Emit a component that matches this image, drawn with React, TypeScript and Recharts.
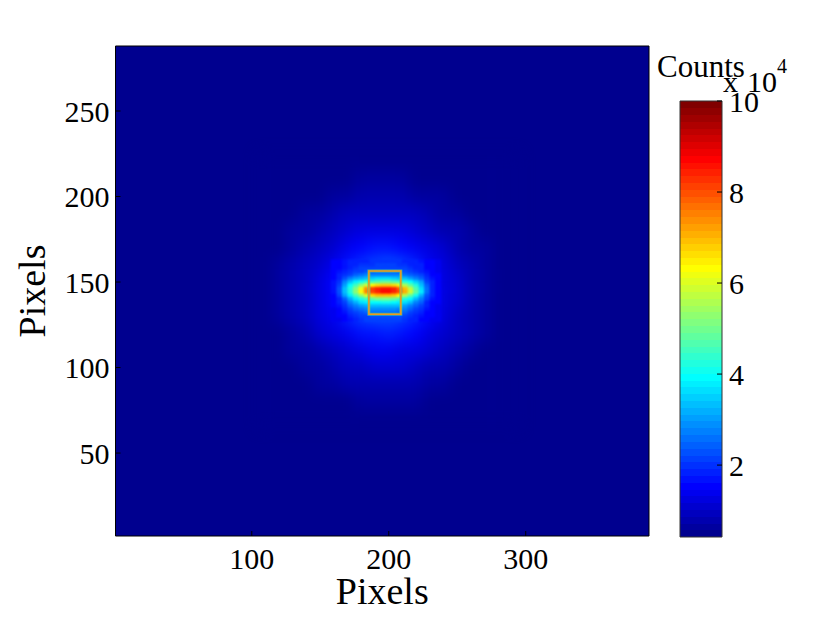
import React from 'react';
import {
	ScatterChart,
	Scatter,
	ComposedChart,
	XAxis,
	YAxis,
	ReferenceArea,
} from 'recharts';

const X_DOMAIN: [number, number] = [0.5, 390];
const Y_DOMAIN: [number, number] = [1.5, 288];
const X_TICKS = [100, 200, 300];
const Y_TICKS = [50, 100, 150, 200, 250];

// counts, in units of 10^4
const C_MIN = 0.42;
const C_MAX = 10;
const BAR_TICKS = [2, 4, 6, 8, 10];

// broad halo around the beam
const haloXs = [110, 120, 130, 140, 150, 160, 170, 180, 190, 200, 210, 220, 230, 240, 250, 260, 270, 280, 290];
const haloYs = [220, 210, 200, 190, 180, 170, 160, 150, 140, 130, 120, 110, 100, 90, 80, 70];
const haloRows = [
	[0.43, 0.43, 0.43, 0.43, 0.43, 0.44, 0.45, 0.46, 0.47, 0.47, 0.46, 0.45, 0.44, 0.43, 0.43, 0.43, 0.43, 0.43, 0.43],
	[0.43, 0.43, 0.43, 0.44, 0.47, 0.5, 0.54, 0.58, 0.6, 0.6, 0.58, 0.55, 0.52, 0.49, 0.46, 0.43, 0.43, 0.43, 0.43],
	[0.43, 0.43, 0.45, 0.49, 0.56, 0.63, 0.7, 0.74, 0.77, 0.78, 0.75, 0.71, 0.66, 0.58, 0.52, 0.46, 0.43, 0.43, 0.43],
	[0.43, 0.45, 0.5, 0.57, 0.67, 0.78, 0.87, 0.95, 1.0, 1.0, 0.97, 0.89, 0.8, 0.7, 0.6, 0.52, 0.46, 0.43, 0.43],
	[0.44, 0.5, 0.57, 0.68, 0.8, 0.95, 1.1, 1.2, 1.28, 1.28, 1.24, 1.13, 1.0, 0.85, 0.72, 0.6, 0.51, 0.45, 0.43],
	[0.47, 0.55, 0.66, 0.8, 0.98, 1.15, 1.35, 1.55, 1.65, 1.68, 1.58, 1.4, 1.2, 1.03, 0.84, 0.7, 0.57, 0.48, 0.44],
	[0.5, 0.6, 0.72, 0.9, 1.12, 1.4, 1.7, 2.0, 2.2, 2.25, 2.1, 1.8, 1.45, 1.17, 0.95, 0.76, 0.62, 0.51, 0.45],
	[0.52, 0.63, 0.78, 0.98, 1.22, 1.55, 1.95, 2.3, 2.5, 2.55, 2.35, 2.0, 1.6, 1.27, 1.02, 0.81, 0.65, 0.53, 0.46],
	[0.52, 0.64, 0.8, 1.0, 1.25, 1.6, 2.0, 2.35, 2.55, 2.6, 2.4, 2.05, 1.65, 1.3, 1.04, 0.82, 0.66, 0.54, 0.46],
	[0.5, 0.61, 0.74, 0.93, 1.17, 1.45, 1.78, 2.1, 2.3, 2.35, 2.2, 1.85, 1.5, 1.2, 0.97, 0.78, 0.63, 0.52, 0.45],
	[0.47, 0.56, 0.67, 0.83, 1.02, 1.2, 1.42, 1.62, 1.75, 1.78, 1.68, 1.48, 1.26, 1.06, 0.87, 0.72, 0.58, 0.49, 0.44],
	[0.45, 0.51, 0.59, 0.71, 0.84, 1.0, 1.15, 1.27, 1.35, 1.36, 1.3, 1.18, 1.04, 0.89, 0.75, 0.62, 0.52, 0.46, 0.43],
	[0.43, 0.46, 0.51, 0.59, 0.7, 0.82, 0.92, 1.0, 1.05, 1.06, 1.02, 0.93, 0.84, 0.73, 0.62, 0.54, 0.47, 0.43, 0.43],
	[0.43, 0.43, 0.46, 0.5, 0.57, 0.65, 0.72, 0.78, 0.81, 0.82, 0.79, 0.74, 0.68, 0.6, 0.53, 0.47, 0.43, 0.43, 0.43],
	[0.43, 0.43, 0.43, 0.44, 0.48, 0.52, 0.56, 0.6, 0.62, 0.62, 0.6, 0.57, 0.53, 0.5, 0.46, 0.43, 0.43, 0.43, 0.43],
	[0.43, 0.43, 0.43, 0.43, 0.43, 0.44, 0.45, 0.47, 0.48, 0.48, 0.47, 0.46, 0.44, 0.43, 0.43, 0.43, 0.43, 0.43, 0.43],
];

// bright elongated core
const coreXs = [160, 164, 168, 172, 176, 180, 184, 188, 192, 196, 200, 204, 208, 212, 216, 220, 224, 228, 232, 236];
const coreYs = [162, 160, 158, 156, 154, 152, 150, 148, 146, 144, 142, 140, 138, 136, 134, 132, 130, 128];
const coreRows = [
	[1.5, 1.6, 1.7, 1.8, 1.8, 1.9, 1.9, 2.0, 2.0, 2.0, 2.0, 2.0, 2.0, 1.9, 1.9, 1.8, 1.7, 1.6, 1.5, 1.4],
	[1.5, 1.6, 1.7, 1.8, 1.9, 2.0, 2.0, 2.0, 2.1, 2.1, 2.1, 2.1, 2.0, 2.0, 1.9, 1.9, 1.8, 1.6, 1.5, 1.4],
	[1.5, 1.6, 1.7, 1.9, 2.0, 2.1, 2.1, 2.2, 2.2, 2.2, 2.2, 2.2, 2.1, 2.1, 2.0, 1.9, 1.8, 1.6, 1.5, 1.4],
	[1.5, 1.7, 1.9, 2.0, 2.1, 2.2, 2.3, 2.3, 2.4, 2.4, 2.4, 2.4, 2.3, 2.3, 2.2, 2.0, 1.9, 1.7, 1.6, 1.4],
	[1.6, 1.8, 2.0, 2.2, 2.4, 2.6, 2.7, 2.7, 2.8, 2.8, 2.8, 2.8, 2.7, 2.6, 2.5, 2.3, 2.1, 1.8, 1.6, 1.5],
	[1.6, 1.9, 2.3, 2.7, 3.0, 3.2, 3.4, 3.5, 3.6, 3.6, 3.6, 3.5, 3.4, 3.3, 3.1, 2.8, 2.5, 2.0, 1.7, 1.5],
	[1.7, 2.0, 2.7, 3.3, 3.8, 4.1, 4.4, 4.6, 4.7, 4.8, 4.8, 4.7, 4.6, 4.3, 3.9, 3.5, 3.0, 2.2, 1.8, 1.5],
	[1.7, 2.2, 3.1, 3.9, 4.6, 5.3, 5.9, 6.4, 6.7, 6.8, 6.8, 6.6, 6.2, 5.6, 4.9, 4.2, 3.3, 2.4, 1.9, 1.6],
	[1.7, 2.3, 3.4, 4.3, 5.2, 6.2, 7.4, 8.1, 8.4, 8.6, 8.6, 8.5, 7.9, 7.0, 5.8, 4.7, 3.7, 2.6, 1.9, 1.6],
	[1.7, 2.3, 3.4, 4.3, 5.3, 6.3, 7.5, 8.2, 8.5, 8.7, 8.7, 8.5, 8.0, 7.1, 5.9, 4.8, 3.8, 2.6, 1.9, 1.6],
	[1.6, 2.1, 3.0, 3.8, 4.6, 5.3, 6.0, 6.6, 6.9, 7.0, 7.0, 6.8, 6.3, 5.6, 4.8, 4.1, 3.2, 2.3, 1.8, 1.5],
	[1.6, 1.9, 2.5, 3.2, 3.8, 4.2, 4.6, 4.9, 5.1, 5.2, 5.2, 5.0, 4.7, 4.3, 3.9, 3.4, 2.8, 2.1, 1.7, 1.5],
	[1.5, 1.8, 2.2, 2.7, 3.2, 3.6, 3.8, 4.0, 4.0, 4.1, 4.1, 4.0, 3.8, 3.6, 3.3, 2.8, 2.4, 1.9, 1.6, 1.5],
	[1.5, 1.7, 2.0, 2.4, 2.7, 3.0, 3.2, 3.4, 3.4, 3.4, 3.4, 3.4, 3.3, 3.1, 2.8, 2.4, 2.1, 1.8, 1.6, 1.4],
	[1.4, 1.6, 1.9, 2.2, 2.4, 2.6, 2.8, 2.9, 2.9, 2.9, 2.9, 2.9, 2.8, 2.7, 2.4, 2.2, 2.0, 1.7, 1.5, 1.4],
	[1.4, 1.5, 1.7, 2.0, 2.2, 2.3, 2.5, 2.6, 2.6, 2.6, 2.6, 2.6, 2.5, 2.4, 2.2, 2.0, 1.8, 1.6, 1.5, 1.4],
	[1.4, 1.5, 1.6, 1.8, 2.0, 2.1, 2.2, 2.3, 2.3, 2.3, 2.3, 2.3, 2.3, 2.2, 2.0, 1.9, 1.7, 1.6, 1.5, 1.4],
	[1.4, 1.4, 1.6, 1.7, 1.8, 2.0, 2.1, 2.1, 2.2, 2.2, 2.2, 2.1, 2.1, 2.0, 1.9, 1.8, 1.6, 1.5, 1.4, 1.4],
];

// region of interest box
const ROI_X: [number, number] = [185.5, 208.8];
const ROI_Y: [number, number] = [131.1, 156.4];

const CHART_W = 830;
const CHART_H = 625;
const PLOT = { left: 115.5, right: 649, top: 46, bottom: 536 };
const BAR = { left: 680, right: 722, top: 101, bottom: 537 };
const pxPerX = (PLOT.right - PLOT.left) / (X_DOMAIN[1] - X_DOMAIN[0]);
const pxPerY = (PLOT.bottom - PLOT.top) / (Y_DOMAIN[1] - Y_DOMAIN[0]);

const clamp01 = (v: number) => Math.max(0, Math.min(1, v));

// MATLAB jet, 64 levels
const jetLevel = (i: number) => {
	const f = (4 * i) / 64;
	const r = clamp01(Math.min(f - 1.5, 4.5 - f));
	const g = clamp01(Math.min(f - 0.5, 3.5 - f));
	const b = clamp01(Math.min(f + 0.5, 2.5 - f));
	return `rgb(${Math.round(r * 255)},${Math.round(g * 255)},${Math.round(b * 255)})`;
};

const jet = (v: number) => {
	const i = Math.ceil(((v - C_MIN) / (C_MAX - C_MIN)) * 64);
	return jetLevel(Math.max(1, Math.min(64, i)));
};

const toCells = (xs: number[], ys: number[], rows: number[][]) =>
	ys.flatMap((y, r) => xs.map((x, c) => ({ x, y, value: rows[r][c] })));

const haloCells = toCells(haloXs, haloYs, haloRows);
const coreCells = toCells(coreXs, coreYs, coreRows);

const barStep = (C_MAX - C_MIN) / 64;
const barCells = Array.from({ length: 64 }, (_, i) => ({
	x: 0.5,
	y: C_MIN + (i + 0.5) * barStep,
	level: i + 1,
}));

const cellShape = (stepX: number, stepY: number) => (props: any) => {
	const w = stepX * pxPerX + 0.6;
	const h = stepY * pxPerY + 0.6;
	return (
		<rect
			x={props.cx - w / 2}
			y={props.cy - h / 2}
			width={w}
			height={h}
			fill={jet(props.payload.value)}
			stroke="none"
		/>
	);
};

const barShape = (props: any) => {
	const h = (BAR.bottom - BAR.top) / 64 + 0.5;
	const w = BAR.right - BAR.left;
	return (
		<rect
			x={props.cx - w / 2}
			y={props.cy - h / 2}
			width={w}
			height={h}
			fill={jetLevel(props.payload.level)}
			stroke="none"
			shapeRendering="crispEdges"
		/>
	);
};

const tickFont = { fontFamily: '"Liberation Serif"', fontSize: 30, fill: '#000' };
const labelFont = { fontFamily: '"Liberation Serif"', fontSize: 38, fill: '#000' };
const axisStroke = { stroke: '#000', strokeWidth: 1 };
const barStroke = { stroke: '#333', strokeWidth: 1 };
const layer = { position: 'absolute', left: 0, top: 0 } as const;

const plotMargin = {
	left: PLOT.left,
	right: CHART_W - PLOT.right,
	top: PLOT.top,
	bottom: CHART_H - PLOT.bottom,
};
const barMargin = {
	left: BAR.left,
	right: CHART_W - BAR.right,
	top: BAR.top,
	bottom: CHART_H - BAR.bottom,
};

// the filled image, no axes
const BeamMap = () => (
	<ScatterChart width={CHART_W} height={CHART_H} margin={plotMargin} style={layer}>
		<XAxis type="number" dataKey="x" domain={X_DOMAIN} allowDataOverflow hide />
		<YAxis type="number" dataKey="y" domain={Y_DOMAIN} allowDataOverflow hide />
		<ReferenceArea
			x1={X_DOMAIN[0]}
			x2={X_DOMAIN[1]}
			y1={Y_DOMAIN[0]}
			y2={Y_DOMAIN[1]}
			fill={jet(C_MIN)}
			fillOpacity={1}
			stroke="none"
		/>
		<Scatter className="halo-layer" data={haloCells} shape={cellShape(10, 10)} isAnimationActive={false} />
		<Scatter className="core-layer" data={coreCells} shape={cellShape(4, 2)} isAnimationActive={false} />
	</ScatterChart>
);

// axes and the box, drawn over the image
const BeamFrame = () => (
	<ScatterChart
		width={CHART_W}
		height={CHART_H}
		margin={{ ...plotMargin, left: PLOT.left - 60, right: plotMargin.right - 1, top: PLOT.top - 1, bottom: plotMargin.bottom - 60 }}
		style={layer}
	>
		<XAxis
			type="number"
			dataKey="x"
			domain={X_DOMAIN}
			ticks={X_TICKS}
			height={60}
			tick={tickFont}
			tickSize={-5}
			tickMargin={17}
			axisLine={axisStroke}
			tickLine={axisStroke}
			allowDataOverflow
			label={{ value: 'Pixels', position: 'insideBottom', offset: -8, dx: 0, style: labelFont }}
		/>
		<YAxis
			type="number"
			dataKey="y"
			domain={Y_DOMAIN}
			ticks={Y_TICKS}
			width={60}
			tick={tickFont}
			tickSize={-5}
			tickMargin={11}
			axisLine={axisStroke}
			tickLine={axisStroke}
			allowDataOverflow
			label={{ value: 'Pixels', angle: -90, position: 'insideLeft', dx: -29, dy: 0, style: { ...labelFont, textAnchor: 'middle' } }}
		/>
		<XAxis
			xAxisId="top"
			orientation="top"
			type="number"
			domain={X_DOMAIN}
			ticks={X_TICKS}
			height={1}
			tick={false}
			tickSize={-5}
			axisLine={axisStroke}
			tickLine={axisStroke}
			allowDataOverflow
		/>
		<YAxis
			yAxisId="right"
			orientation="right"
			type="number"
			domain={Y_DOMAIN}
			ticks={Y_TICKS}
			width={1}
			tick={false}
			tickSize={-5}
			axisLine={axisStroke}
			tickLine={axisStroke}
			allowDataOverflow
		/>
		<ReferenceArea
			x1={ROI_X[0]}
			x2={ROI_X[1]}
			y1={ROI_Y[0]}
			y2={ROI_Y[1]}
			fill="none"
			stroke="#5fd07a"
			strokeWidth={3}
			strokeOpacity={0.7}
		/>
		<ReferenceArea
			x1={ROI_X[0]}
			x2={ROI_X[1]}
			y1={ROI_Y[0]}
			y2={ROI_Y[1]}
			fill="none"
			stroke="#f0981a"
			strokeWidth={1.5}
		/>
	</ScatterChart>
);

const ColorBar = () => (
	<ScatterChart width={CHART_W} height={CHART_H} margin={barMargin} style={layer}>
		<XAxis type="number" dataKey="x" domain={[0, 1]} allowDataOverflow hide />
		<YAxis type="number" dataKey="y" domain={[C_MIN, C_MAX]} allowDataOverflow hide />
		<Scatter data={barCells} shape={barShape} isAnimationActive={false} />
	</ScatterChart>
);

const ColorBarFrame = () => (
	<ComposedChart
		width={CHART_W}
		height={CHART_H}
		margin={{ left: BAR.left - 1, right: barMargin.right - 60, top: BAR.top - 1, bottom: barMargin.bottom - 1 }}
		style={layer}
	>
		<XAxis type="number" domain={[0, 1]} height={1} tick={false} tickLine={false} axisLine={barStroke} allowDataOverflow />
		<XAxis xAxisId="top" orientation="top" type="number" domain={[0, 1]} height={1} tick={false} tickLine={false} axisLine={barStroke} allowDataOverflow />
		<YAxis
			type="number"
			domain={[C_MIN, C_MAX]}
			ticks={BAR_TICKS}
			orientation="right"
			width={60}
			tick={{ ...tickFont, textAnchor: 'start' }}
			tickSize={-5}
			tickMargin={12}
			axisLine={barStroke}
			tickLine={axisStroke}
			interval={0}
			allowDataOverflow
		/>
		<YAxis
			yAxisId="left"
			type="number"
			domain={[C_MIN, C_MAX]}
			ticks={BAR_TICKS}
			width={1}
			tick={false}
			tickSize={-5}
			axisLine={barStroke}
			tickLine={axisStroke}
			interval={0}
			allowDataOverflow
		/>
	</ComposedChart>
);

export default function App() {
	return (
		<div style={{ position: 'absolute', left: 0, top: 0, width: CHART_W, height: CHART_H, background: '#fff' }}>
			<style>{`
				.halo-layer { filter: blur(7px); }
				.core-layer { filter: blur(1.2px); }
			`}</style>
			<BeamMap />
			<BeamFrame />
			<ColorBar />
			<ColorBarFrame />
			<svg width={CHART_W} height={CHART_H} style={{ ...layer, pointerEvents: 'none' }}>
				<g fontFamily='"Liberation Serif"' fill="#000">
					<text x={657} y={77} fontSize={31}>Counts</text>
					<text x={723} y={92} fontSize={30}>x</text>
					<text x={747} y={92} fontSize={30}>10</text>
					<text x={777} y={73} fontSize={20}>4</text>
				</g>
			</svg>
		</div>
	);
}
